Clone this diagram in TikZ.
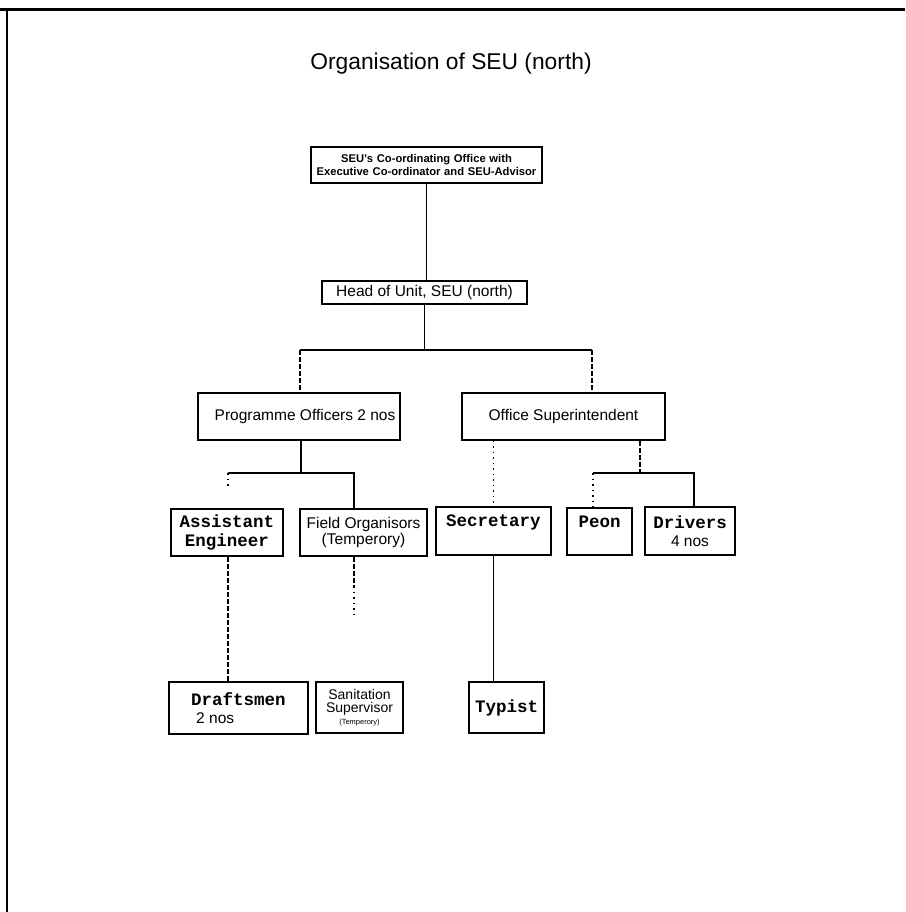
\documentclass[tikz,border=0pt]{standalone}
\usepackage{fontspec}
\setmainfont{Liberation Sans}
\newfontfamily\cour{Liberation Mono}
\newcommand{\fsz}[1]{\fontsize{#1}{#1}\selectfont}
\begin{document}
\begin{tikzpicture}[x=1pt,y=-1pt,
  box/.style={draw, line width=1.1pt, inner sep=0pt, align=center, font=\fsz{15.5}},
  monobox/.style={box, font=\cour\bfseries\fsz{17.5}},
  link/.style={line width=1.1pt},
  faint/.style={line width=1.1pt, dash pattern=on 5pt off 2pt},
  dotline/.style={line width=1.1pt, dash pattern=on 1.5pt off 4pt}]
\useasboundingbox (0,0) rectangle (905,912);
% page frame (top and left edges)
\draw[line width=3pt] (0,10) -- (905,10);
\draw[line width=2.2pt] (7,10) -- (7,912);

% title
\node[font=\fsz{22.8}] (title) at (451,64) {Organisation of SEU (north)};

% level 1-2
\node[box, font=\bfseries\fsz{11.2}, minimum width=231, minimum height=36, text width=229]
  (coord) at (426.5,165) {SEU's Co-ordinating Office with\\[1.5pt] Executive Co-ordinator and SEU-Advisor};
\node[box, minimum width=205, minimum height=23] (head) at (424.5,292.5) {Head of Unit, SEU (north)};

% level 3
\node[box, minimum width=202, minimum height=47] (po) at (299,416.5) {\hspace*{12pt}Programme Officers 2 nos};
\node[box, minimum width=203, minimum height=47] (os) at (563.5,416.5) {Office Superintendent};

% level 4
\node[monobox, minimum width=112, minimum height=47] (ae) at (227,532.5) {Assistant\\[1pt] Engineer};
\node[box, minimum width=127, minimum height=47] (fo) at (363.5,532.5) {Field Organisors\\[1pt] (Temperory)};
\node[monobox, minimum width=115, minimum height=48] (sec) at (493.5,531) {Secretary\\[3pt] \mbox{}};
\node[monobox, minimum width=65, minimum height=47] (peon) at (599.5,531.5) {Peon\\[3pt] \mbox{}};
\node[monobox, minimum width=90, minimum height=48] (drv) at (690,531) {Drivers\\[1pt] {\normalfont\fsz{15.5}4 nos}};

% level 5
\node[monobox, align=left, minimum width=139, minimum height=52] (dft) at (238.5,708) {Draftsmen\\[1pt] \hspace*{5pt}{\normalfont\fsz{15.5}2 nos}};
\node[box, font=\fsz{14}, minimum width=87, minimum height=51] (san) at (359.5,707.5) {Sanitation\\[-1pt] Supervisor\\[-2pt] {\fsz{7.5}(Temperory)}};
\node[monobox, minimum width=75, minimum height=51] (typ) at (506.5,707.5) {Typist};

% junction points
\coordinate (jl) at (300,350);
\coordinate (jr) at (592,350);
\coordinate (pa) at (228,473);
\coordinate (pb) at (354,473);
\coordinate (om) at (640,473);
\coordinate (oa) at (593,473);
\coordinate (ob) at (694,473);
\coordinate (foend) at (354,617);

% connectors
\draw[link] (coord.south) -- (coord.south |- head.north);
\draw[link] (head.south) -- (head.south |- jl);
\draw[link] (jl) -- (jr);
\draw[faint] (jl) -- (jl |- po.north);
\draw[faint] (jr) -- (jr |- os.north);

\draw[link] (po.south -| 301,0) -- (301,473);
\draw[link] (pa) -- (pb) -- (pb |- fo.north);
\draw[dotline] (pa) -- ++(0,14);

\draw[dotline] (sec.north |- os.south) -- (sec.north);
\draw[faint] (om |- os.south) -- (om);
\draw[link] (oa) -- (ob) -- (ob |- drv.north);
\draw[dotline] (oa) -- (oa |- peon.north);

\draw[faint] (pa |- ae.south) -- (pa |- dft.north);
\draw[faint] (pb |- fo.south) -- ++(0,30);
\draw[dotline] (354,586) -- (foend);
\draw[link] (sec.south) -- (sec.south |- typ.north);
\end{tikzpicture}
\end{document}
